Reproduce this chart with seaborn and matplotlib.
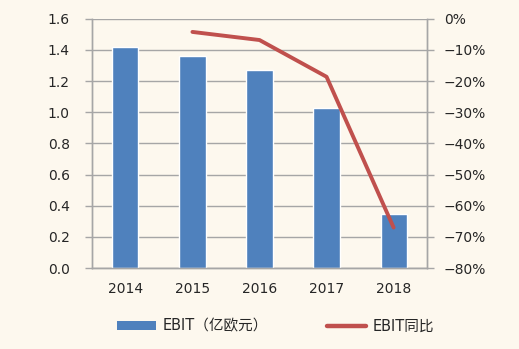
import matplotlib
matplotlib.use("Agg")
import matplotlib.pyplot as plt
import seaborn as sns
import pandas as pd
import numpy as np
from matplotlib.patches import Patch
from matplotlib.lines import Line2D
from matplotlib.ticker import FuncFormatter

years = ["2014", "2015", "2016", "2017", "2018"]
ebit = [1.42, 1.36, 1.27, 1.03, 0.35]
yoy_years = ["2015", "2016", "2017", "2018"]
yoy = [-4.2, -6.8, -18.6, -67.0]

sns.set_style("white")
plt.rcParams['font.family'] = ['DejaVu Sans', 'Noto Sans CJK SC']
plt.rcParams['axes.unicode_minus'] = True

bg = "#fdf8ee"
grey = "#a6a6a6"
fig = plt.figure(figsize=(5.19, 3.49), dpi=100, facecolor=bg)
ax = fig.add_axes([0.177, 0.232, 0.646, 0.714])
ax.set_facecolor(bg)

df = pd.DataFrame({"year": years, "ebit": ebit})
sns.barplot(data=df, x="year", y="ebit", color="#4f81bd", width=0.39,
            saturation=1, ax=ax, zorder=3)
ax.set_ylim(0, 1.6)
ax.set_yticks(np.arange(0, 1.61, 0.2))
ax.yaxis.set_major_formatter(FuncFormatter(lambda v, p: f"{v:.1f}"))
ax.set_xlim(-0.5, 4.5)
ax.set_xlabel("")
ax.set_ylabel("")
ax.yaxis.grid(True, color=grey, lw=1, zorder=0)
ax.set_axisbelow(True)
ax.set_xticks(np.arange(-0.5, 4.6, 1), minor=False, labels=[""] * 6)
ax.set_xticks(range(5), labels=years, minor=True)
ax.tick_params(axis="x", which="major", length=5, color=grey, width=1, direction="out")
ax.tick_params(axis="x", which="minor", length=0, labelsize=10, pad=10)
ax.tick_params(axis="y", length=5, color=grey, width=1, labelsize=10, direction="out", pad=11)

ax2 = ax.twinx()
ldf = pd.DataFrame({"pos": [years.index(y) for y in yoy_years], "yoy": yoy})
sns.lineplot(data=ldf, x="pos", y="yoy", color="#c0504d", lw=2.8, ax=ax2, zorder=4)
ax2.set_ylim(-80, 0)
ax2.set_yticks(np.arange(-80, 1, 10))
ax2.yaxis.set_major_formatter(FuncFormatter(lambda v, p: f"{int(round(v))}%".replace("-", "\u2212")))
ax2.set_ylabel("")
ax2.set_xlabel("")
ax2.set_xlim(-0.5, 4.5)
ax2.tick_params(axis="y", length=5, color=grey, width=1, labelsize=10, direction="out", pad=7)

for a in (ax, ax2):
    for s in a.spines.values():
        s.set_color(grey)
        s.set_linewidth(1)
    a.spines["top"].set_visible(False)

handles = [Patch(facecolor="#4f81bd", edgecolor="none"),
           Line2D([0], [0], color="#c0504d", lw=3.2, solid_capstyle="round")]
fig.legend(handles, ["EBIT（亿欧元）", "EBIT同比"], loc="center", ncol=2,
           bbox_to_anchor=(0.531, 0.066), frameon=False, fontsize=10.5,
           handlelength=2.67, handleheight=0.55, columnspacing=4.1, handletextpad=0.4)

fig.savefig("out.png", dpi=100, facecolor=bg)
